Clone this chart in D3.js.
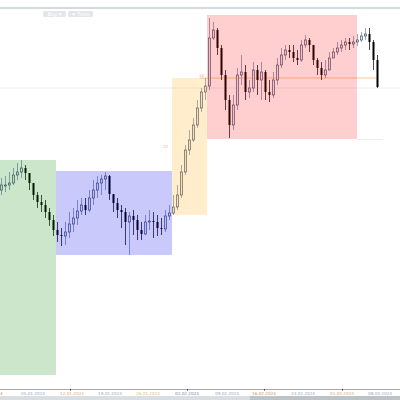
<!DOCTYPE html>
<html><head><meta charset="utf-8">
<script src="https://cdn.jsdelivr.net/npm/d3@7/dist/d3.min.js"></script>
<style>html,body{margin:0;padding:0;background:#fff;}svg{display:block;}</style>
</head><body>
<script>
// ---- data (price levels) ----
const closes = [215,215,217,225,228,232,227,217,205,198,
195,188,180,170,165,164,168,176,182,189,
195,190,202,210,217,221,224,206,197,190,
188,178,184,180,170,166,178,179,178,172,
171,184,187,193,205,228,250,260,275,292,
308,314,362,370,352,325,300,275,295,325,
328,308,312,330,320,328,308,305,320,335,
345,350,348,342,340,355,360,355,340,332,
325,330,342,348,352,355,358,356,358,360,
364,366,358,340,313];
const highs = [222,224,228,232,237,240,235,225,215,208,
205,200,192,185,178,172,178,188,192,200,
202,202,210,220,224,225,228,225,205,202,
195,192,188,190,185,178,185,190,188,185,
182,190,195,205,215,235,255,270,282,300,
312,322,382,378,372,355,330,305,305,332,
345,335,320,338,335,338,330,320,328,342,
352,355,355,355,350,360,365,362,352,342,
338,340,348,352,358,360,362,362,364,366,
368,372,372,360,345];
const lows = [205,208,210,215,220,222,220,210,200,192,
188,182,174,164,158,154,155,162,168,175,
185,185,188,195,202,205,210,200,188,182,
172,155,145,165,160,160,165,170,162,164,
165,168,180,185,190,202,225,245,258,272,
288,300,310,360,345,320,290,262,270,290,
315,300,302,308,305,300,300,298,302,315,
332,340,342,338,335,338,352,348,335,325,
320,322,335,342,345,348,350,350,352,354,
358,360,350,330,312];
const firstOpen = 210;

// range boxes: [startIndex, endIndex, top level, bottom level]
const boxStart = [-0.25, 13.75, 42.75, 51.5];
const boxEnd   = [13.75, 42.75, 51.5, 89];
const boxTop   = [240, 229, 322, 385];
const boxBottom= [25, 145, 185, 261];
const boxColors= ["rgba(0,128,0,0.2)","rgba(0,0,235,0.21)","rgba(255,165,0,0.2)","rgba(255,0,0,0.19)"];

const axisLabels = ["05.01.2024","12.01.2024","19.01.2024","26.01.2024","02.02.2024","09.02.2024","16.02.2024","23.02.2024","01.03.2024","08.03.2024"];
const axisLabelX = [33,72,110,148,187,227,264,303,342,380];
const axisColors = ["#8fa6c8","#d8a878","#8fa6c8","#d8c070","#7088b0","#8fa6c8","#c89060","#8fa6c8","#d8a878","#8fa6c8"];

const W=400,H=400;
const svg = d3.select("body").append("svg").attr("width",W).attr("height",H);
const x = d3.scaleLinear().domain([0,94]).range([1,377]);
const y = d3.scaleLinear().domain([0,400]).range([400,0]);

// top bar
svg.append("rect").attr("x",0).attr("y",7).attr("width",W).attr("height",2).attr("fill","#d3dbdf");
[[43,23,"Buy ▾"],[68,25,"≡ Tools"]].forEach(b=>{
  svg.append("rect").attr("x",b[0]).attr("y",11).attr("width",b[1]).attr("height",6).attr("rx",1.5).attr("fill","#e3e7ea");
  svg.append("text").attr("x",b[0]+b[1]/2).attr("y",16).attr("text-anchor","middle").attr("font-size",5).attr("font-family","DejaVu Sans").attr("fill","#fff").text(b[2]);
});

// horizontal level lines
svg.append("line").attr("x1",0).attr("x2",W).attr("y1",y(312)).attr("y2",y(312)).attr("stroke","#ececec").attr("stroke-width",1);
svg.append("line").attr("x1",x(49.75)).attr("x2",x(94.25)).attr("y1",y(322)).attr("y2",y(322)).attr("stroke","#f6c894").attr("stroke-width",1);
svg.append("line").attr("x1",x(89)).attr("x2",x(95.5)).attr("y1",y(261)+0.5).attr("y2",y(261)+0.5).attr("stroke","#eeeeee").attr("stroke-width",1);

// candles
const data = closes.map((c,i)=>{
  const o = i===0?firstOpen:closes[i-1];
  return {i,o,c,h:Math.max(highs[i],o,c),l:Math.min(lows[i],o,c)};
});
const g = svg.append("g");
g.selectAll("line.w").data(data).join("line")
  .attr("x1",d=>x(d.i)+0.5).attr("x2",d=>x(d.i)+0.5)
  .attr("y1",d=>y(d.h)).attr("y2",d=>y(d.l))
  .attr("stroke",d=>d.c>=d.o?"#7d90b8":"#1a1a1a").attr("stroke-width",0.8);
g.selectAll("rect.b").data(data).join("rect")
  .attr("x",d=>x(d.i)-0.5).attr("width",2)
  .attr("y",d=>y(Math.max(d.o,d.c))).attr("height",d=>Math.max(1,Math.abs(y(d.o)-y(d.c))))
  .attr("fill",d=>d.c>=d.o?"#e6f0ff":"#000")
  .attr("stroke",d=>d.c>=d.o?"#2e3550":"none").attr("stroke-width",0.6);

// boxes on top (translucent)
boxStart.forEach((s,k)=>{
  svg.append("rect").attr("x",x(s)).attr("width",x(boxEnd[k])-x(s))
    .attr("y",y(boxTop[k])).attr("height",y(boxBottom[k])-y(boxTop[k]))
    .attr("fill",boxColors[k]);
});

// tiny level labels
svg.append("text").attr("x",199).attr("y",y(323)).attr("font-size",4).attr("font-family","DejaVu Sans").attr("fill","#e8a0a0").text("10");
svg.append("text").attr("x",163).attr("y",y(252)).attr("font-size",4).attr("font-family","DejaVu Sans").attr("fill","#f0b070").text("12");

// bottom axis
svg.append("line").attr("x1",0).attr("x2",W).attr("y1",389.5).attr("y2",389.5).attr("stroke","#a8a8a8").attr("stroke-width",1);
axisLabels.forEach((t,k)=>{
  svg.append("text").attr("x",axisLabelX[k]).attr("y",394.5).attr("text-anchor","middle")
    .attr("font-size",4.2).attr("font-family","DejaVu Sans").attr("fill",axisColors[k]).text(t);
});
[70,187,264,342].forEach(px=>svg.append("rect").attr("x",px).attr("y",389).attr("width",1).attr("height",1.5).attr("fill","#333"));
svg.append("text").attr("x",0).attr("y",394.5).attr("font-size",4.2).attr("font-family","DejaVu Sans").attr("fill","#c89060").text("4");
svg.append("rect").attr("x",0).attr("y",396).attr("width",W).attr("height",4).attr("fill","#d8dee1");
svg.append("rect").attr("x",250).attr("y",396).attr("width",150).attr("height",4).attr("fill","#bcc4c8");
</script>
</body></html>
